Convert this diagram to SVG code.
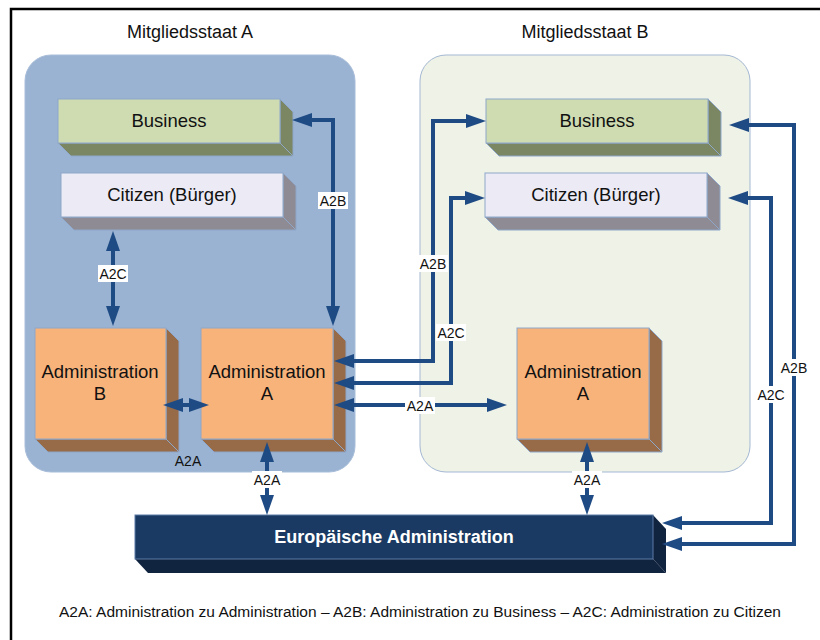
<svg xmlns="http://www.w3.org/2000/svg" width="820" height="640" viewBox="0 0 820 640">
  <style>
    text { font-family: "Liberation Sans", Arial, sans-serif; fill: #111; }
    .title { font-size: 18px; text-anchor: middle; }
    .node { font-size: 18.5px; text-anchor: middle; }
    .euro { font-size: 18px; font-weight: bold; fill: #ffffff; text-anchor: middle; }
    .lbl { font-size: 14px; text-anchor: middle; }
    .lblbg { fill: #ffffff; }
    .legend { font-size: 15.5px; text-anchor: middle; }
    .conn { fill: none; stroke: #1f4b85; stroke-width: 4; marker-start: url(#ah); marker-end: url(#ah); }
    .edge { stroke: #8ea7c9; stroke-width: 1; }
    .bus-f { fill: #cfdcb1; } .bus-s { fill: #7b8663; }
    .cit-f { fill: #ecebf5; } .cit-s { fill: #8e8b94; }
    .adm-f { fill: #f8b37b; } .adm-s { fill: #976b48; }
    .eu-f { fill: #1a3a63; } .eu-s { fill: #10233f; }
  </style>
  <defs>
    <marker id="ah" markerUnits="userSpaceOnUse" markerWidth="20" markerHeight="14" refX="8" refY="7" orient="auto-start-reverse" viewBox="0 0 20 14">
      <path d="M0,0 L20,7 L0,14 z" fill="#1f4b85"/>
    </marker>
  </defs>

  <rect width="820" height="640" fill="#ffffff"/>
  <!-- frame -->
  <path d="M11,640 V9 H820" fill="none" stroke="#000" stroke-width="2.5"/>

  <g id="staat-a">
    <rect x="25" y="55" width="330" height="417" rx="26" fill="#9ab3d2" stroke="#a8bdd9" stroke-width="1"/>
    <text class="title" x="190" y="38">Mitgliedsstaat A</text>
  </g>
  <g id="staat-b">
    <rect x="420" y="55" width="330" height="417" rx="26" fill="#eef2e7" stroke="#a5b8d3" stroke-width="1"/>
    <text class="title" x="585" y="38">Mitgliedsstaat B</text>
  </g>

  <g id="business-a">
    <polygon class="bus-s edge" points="58,143 280,143 293,156 71,156"/>
    <polygon class="bus-s edge" points="280,99 293,112 293,156 280,143"/>
    <rect class="bus-f edge" x="58" y="99" width="222" height="44"/>
    <text class="node" x="169" y="127">Business</text>
  </g>
  <g id="citizen-a">
    <polygon class="cit-s edge" points="61,217 283,217 296,230 74,230"/>
    <polygon class="cit-s edge" points="283,173 296,186 296,230 283,217"/>
    <rect class="cit-f edge" x="61" y="173" width="222" height="44"/>
    <text class="node" x="172" y="201">Citizen (Bürger)</text>
  </g>
  <g id="admin-b">
    <polygon class="adm-s edge" points="35,439 166,439 179,452 48,452"/>
    <polygon class="adm-s edge" points="166,328 179,341 179,452 166,439"/>
    <rect class="adm-f edge" x="35" y="328" width="131" height="111"/>
    <text class="node" x="100" y="378">Administration</text>
    <text class="node" x="100" y="400">B</text>
  </g>
  <g id="admin-a">
    <polygon class="adm-s edge" points="201,439 333,439 346,452 214,452"/>
    <polygon class="adm-s edge" points="333,328 346,341 346,452 333,439"/>
    <rect class="adm-f edge" x="201" y="328" width="132" height="111"/>
    <text class="node" x="267" y="378">Administration</text>
    <text class="node" x="267" y="400">A</text>
  </g>

  <g id="business-b">
    <polygon class="bus-s edge" points="486,143 708,143 721,156 499,156"/>
    <polygon class="bus-s edge" points="708,99 721,112 721,156 708,143"/>
    <rect class="bus-f edge" x="486" y="99" width="222" height="44"/>
    <text class="node" x="597" y="127">Business</text>
  </g>
  <g id="citizen-b">
    <polygon class="cit-s edge" points="485,217 707,217 720,230 498,230"/>
    <polygon class="cit-s edge" points="707,173 720,186 720,230 707,217"/>
    <rect class="cit-f edge" x="485" y="173" width="222" height="44"/>
    <text class="node" x="596" y="201">Citizen (Bürger)</text>
  </g>
  <g id="admin-a-b">
    <polygon class="adm-s edge" points="517,439 649,439 662,452 530,452"/>
    <polygon class="adm-s edge" points="649,328 662,341 662,452 649,439"/>
    <rect class="adm-f edge" x="517" y="328" width="132" height="111"/>
    <text class="node" x="583" y="378">Administration</text>
    <text class="node" x="583" y="400">A</text>
  </g>

  <g id="euro-admin">
    <polygon class="eu-s" points="135,559 653,559 666,573 148,573"/>
    <polygon class="eu-s" points="653,515 666,529 666,573 653,559"/>
    <rect class="eu-f" x="135" y="515" width="518" height="44" stroke="#5a7aa5" stroke-width="1"/>
    <text class="euro" x="394" y="543">Europäische Administration</text>
  </g>

  <g id="connectors">
    <path class="conn" d="M113,243 V314"/>
    <path class="conn" d="M333,314 V120 H304"/>
    <path class="conn" d="M175,405 H197"/>
    <path class="conn" d="M267,454 V503"/>
    <path class="conn" d="M346,361 H433 V121 H474"/>
    <path class="conn" d="M346,383 H451 V198 H473"/>
    <path class="conn" d="M346,405 H495"/>
    <path class="conn" d="M587,454 V503"/>
    <path class="conn" d="M741,125 H794 V544 H674"/>
    <path class="conn" d="M740,198 H771 V523 H674"/>

    <rect class="lblbg" x="98" y="265" width="30" height="17"/>
    <text class="lbl" x="113" y="279">A2C</text>
    <rect class="lblbg" x="318" y="192" width="30" height="17"/>
    <text class="lbl" x="333" y="206">A2B</text>
    <text class="lbl" x="188" y="466">A2A</text>
    <rect class="lblbg" x="252" y="471" width="30" height="17"/>
    <text class="lbl" x="267" y="485">A2A</text>
    <rect class="lblbg" x="418" y="255" width="30" height="17"/>
    <text class="lbl" x="433" y="269">A2B</text>
    <rect class="lblbg" x="436" y="324" width="30" height="17"/>
    <text class="lbl" x="451" y="338">A2C</text>
    <rect class="lblbg" x="405" y="397" width="30" height="17"/>
    <text class="lbl" x="420" y="411">A2A</text>
    <rect class="lblbg" x="572" y="471" width="30" height="17"/>
    <text class="lbl" x="587" y="485">A2A</text>
    <rect class="lblbg" x="779" y="359" width="30" height="17"/>
    <text class="lbl" x="794" y="373">A2B</text>
    <rect class="lblbg" x="756" y="386" width="30" height="17"/>
    <text class="lbl" x="771" y="400">A2C</text>
  </g>

  <text class="legend" x="420" y="617">A2A: Administration zu Administration – A2B: Administration zu Business – A2C: Administration zu Citizen</text>
</svg>
